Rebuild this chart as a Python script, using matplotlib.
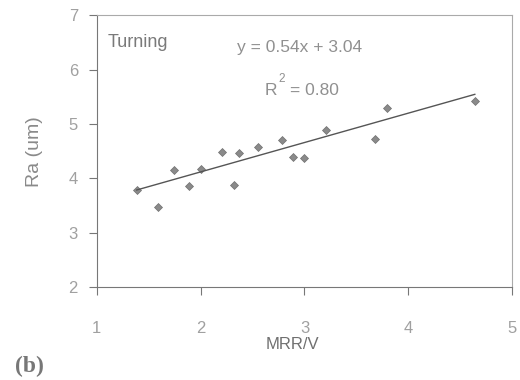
import matplotlib
matplotlib.use("Agg")
import matplotlib.pyplot as plt
import numpy as np

plt.rcParams['font.family'] = ['Liberation Sans', 'DejaVu Sans']

mrr_v = [1.385, 1.59, 1.74, 1.885, 2.00, 2.21, 2.32, 2.37, 2.55, 2.78, 2.89, 3.00, 3.21, 3.68, 3.79, 4.64]
ra = [3.79, 3.47, 4.15, 3.86, 4.17, 4.49, 3.875, 4.46, 4.58, 4.70, 4.39, 4.38, 4.89, 4.73, 5.30, 5.43]
slope = 0.54
intercept = 3.04
r2 = 0.80
xticks = [1, 2, 3, 4, 5]
yticks = [2, 3, 4, 5, 6, 7]

fig = plt.figure(figsize=(5.2, 3.8), dpi=100)
ax = fig.add_axes([0.186, 0.244, 0.799, 0.716])

ax.plot(mrr_v, ra, linestyle='none', marker='D', markersize=3.8,
        color='#8a8a8a', markeredgecolor='#707070', markeredgewidth=0.5)
xs = np.array([min(mrr_v), max(mrr_v)])
ax.plot(xs, slope * xs + intercept, color='#555555', linewidth=1.0)

ax.set_xlim(1, 5)
ax.set_ylim(2, 7)
ax.set_xticks(xticks)
ax.set_yticks(yticks)
ax.tick_params(axis='x', direction='out', length=6, width=0.8, color='#777777',
               labelcolor='#a0a0a0', labelsize=12, pad=18)
ax.tick_params(axis='y', direction='out', length=6, width=0.8, color='#777777',
               labelcolor='#a0a0a0', labelsize=12, pad=7.5)
for s in ax.spines.values():
    s.set_color('#aaaaaa')
    s.set_linewidth(0.8)
ax.spines['left'].set_color('#777777')
ax.spines['bottom'].set_color('#777777')

ax.set_xlabel('MRR/V', color='#707070', fontsize=12)
ax.xaxis.set_label_coords(0.47, -0.183)
ax.set_ylabel('Ra (um)', color='#8a8a8a', fontsize=14)
ax.yaxis.set_label_coords(-0.13, 0.5)

ax.text(0.027, 0.898, 'Turning', transform=ax.transAxes, fontsize=13,
        color='#7a7a7a', va='center', ha='left')
ax.text(0.338, 0.883, f'y = {slope:.2f}x + {intercept:.2f}', transform=ax.transAxes,
        fontsize=12.5, color='#909090', va='center', ha='left')
ax.text(0.405, 0.725, 'R', transform=ax.transAxes, fontsize=12.5,
        color='#909090', va='center', ha='left')
ax.text(0.446, 0.765, '2', transform=ax.transAxes, fontsize=8.5,
        color='#909090', va='center', ha='center')
ax.text(0.465, 0.725, f'= {r2:.2f}', transform=ax.transAxes, fontsize=12.5,
        color='#909090', va='center', ha='left')

fig.text(0.028, 0.035, '(b)', fontsize=17, fontweight='bold', color='#777777',
         family=['Liberation Serif', 'DejaVu Serif'], ha='left', va='center')

fig.savefig('out.png', dpi=100, facecolor='white')
